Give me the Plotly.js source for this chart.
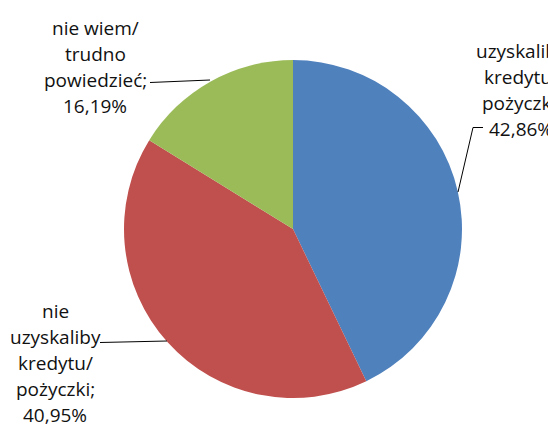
<!DOCTYPE html>
<html>
<head>
<meta charset="utf-8">
<script src="https://cdn.plot.ly/plotly-3.0.1.min.js"></script>
<style>html,body{margin:0;padding:0;background:#fff;}#chart{width:548px;height:424px;}</style>
</head>
<body>
<div id="chart"></div>
<script>
// Data
const categories = ["uzyskaliby kredytu/ pożyczki", "nie uzyskaliby kredytu/ pożyczki", "nie wiem/ trudno powiedzieć"];
const values = [42.86, 40.95, 16.19];
const valueLabels = ["42,86%", "40,95%", "16,19%"];
const colors = ["#4F81BD", "#C0504D", "#9BBB59"];

// label line breaks as displayed
const labelLines = [
  ["uzyskaliby", "kredytu/", "pożyczki;", valueLabels[0]],
  ["nie", "uzyskaliby", "kredytu/", "pożyczki;", valueLabels[1]],
  ["nie wiem/", "trudno", "powiedzieć;", valueLabels[2]]
];

const W = 548, H = 424;
const cx = 293, cy = 229, r = 169;
// label block centers (px) and leader lines (px)
const labelPos = [
  {x: 521, y: 90},
  {x: 55, y: 363},
  {x: 95, y: 67}
];
const leaders = [
  [[458, 192], [473, 127.5], [483, 127.5]],
  [[167, 341], [100, 342.5]],
  [[210, 80], [150, 82.5]]
];
const spacing = 25.8;
const px = x => x / W, py = y => 1 - y / H;

const annotations = [];
labelLines.forEach((lines, k) => {
  const n = lines.length;
  lines.forEach((t, i) => {
    annotations.push({
      xref: 'paper', yref: 'paper',
      x: px(labelPos[k].x), y: py(labelPos[k].y + (i - (n - 1) / 2) * spacing),
      xanchor: 'center', yanchor: 'middle',
      text: t, showarrow: false,
      font: {family: 'Open Sans, sans-serif', size: 19, color: '#111111'}
    });
  });
});

const shapes = leaders.map(pts => ({
  type: 'path', xref: 'paper', yref: 'paper',
  path: pts.map((p, i) => (i ? 'L' : 'M') + px(p[0]) + ',' + py(p[1])).join(' '),
  line: {color: '#000', width: 1}
}));

const trace = {
  type: 'pie',
  labels: categories,
  values: values,
  sort: false,
  direction: 'clockwise',
  rotation: 0,
  textinfo: 'none',
  hoverinfo: 'label+percent',
  marker: {colors: colors, line: {width: 0}},
  domain: {x: [px(cx - r), px(cx + r)], y: [py(cy + r), py(cy - r)]},
  showlegend: false
};

Plotly.newPlot('chart', [trace], {
  width: W, height: H,
  margin: {l: 0, r: 0, t: 0, b: 0},
  paper_bgcolor: '#fff',
  showlegend: false,
  annotations: annotations,
  shapes: shapes
}, {displayModeBar: false, staticPlot: true});
</script>
</body>
</html>
